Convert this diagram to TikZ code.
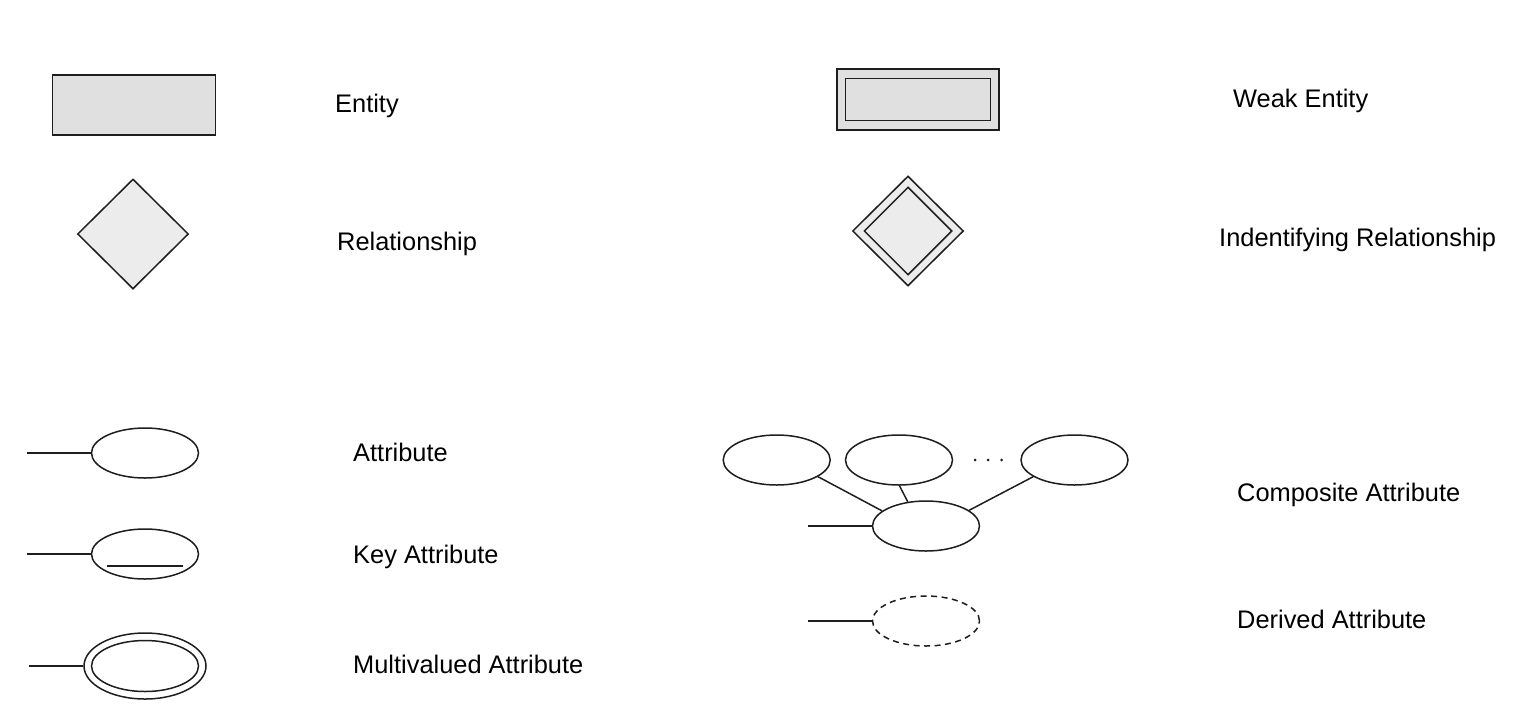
\documentclass[tikz,border=0pt]{standalone}
\usepackage{fontspec}
\setmainfont{Liberation Sans}
\usetikzlibrary{shapes.geometric}
\definecolor{ink}{HTML}{1E1E1E}
\definecolor{entfill}{HTML}{E0E0E0}
\definecolor{relfill}{HTML}{ECECEC}
\tikzset{
  er/.style={draw=ink, line width=1.5pt, inner sep=0pt},
  entbox/.style={er, rectangle, fill=entfill},
  relbox/.style={er, diamond, fill=relfill},
  attr/.style={er, ellipse, fill=white, minimum width=107pt, minimum height=50pt},
  conn/.style={draw=ink, line width=1.5pt},
  lbl/.style={anchor=base west, inner sep=0pt, font=\fontsize{25.4}{29}\selectfont, text=black}
}
\begin{document}
\begin{tikzpicture}[x=1pt,y=-1pt]
\useasboundingbox (0,0) rectangle (1517,716);
% Entity
\node[entbox, minimum width=163pt, minimum height=60pt] (ent) at (134,105) {};
\node[lbl] (entl) at (335,112.7) {Entity};
% Relationship
\node[relbox, minimum width=111pt, minimum height=110pt] (rel) at (133,234) {};
\node[lbl] (rell) at (337,250) {Relationship};
% Weak entity
\node[entbox, minimum width=162pt, minimum height=61pt] (went) at (918,99.5) {};
\node[entbox, minimum width=145pt, minimum height=42pt] (wenti) at (918,99.5) {};
\node[lbl] (wentl) at (1233,107.3) {Weak Entity};
% Identifying relationship
\node[relbox, minimum width=111pt, minimum height=110pt] (irel) at (908,231) {};
\node[relbox, minimum width=88pt, minimum height=88pt] (ireli) at (908,231) {};
\node[lbl] (irell) at (1219,246.7) {Indentifying Relationship};
% Attribute
\node[attr] (att) at (145,453) {};
\coordinate (attc) at (27,453);
\draw[conn] (attc) -- (att.west);
\node[lbl] (attl) at (353,461.7) {Attribute};
% Key attribute
\node[attr] (katt) at (145,554) {};
\coordinate (kattc) at (27,554);
\draw[conn] (kattc) -- (katt.west);
\draw[conn] ([shift={(-38pt,-12pt)}]katt.center) -- ([shift={(38pt,-12pt)}]katt.center);
\node[lbl] (kattl) at (353,563.3) {Key Attribute};
% Multivalued attribute
\node[attr, minimum width=122pt, minimum height=66pt] (matt) at (145,666) {};
\node[attr, minimum width=107pt, minimum height=51pt] (matti) at (145,666) {};
\coordinate (mattc) at (29,666);
\draw[conn] (mattc) -- (matt.west);
\node[lbl] (mattl) at (353,673.3) {Multivalued Attribute};
% Composite attribute
\node[attr] (c1) at (776.7,460) {};
\node[attr] (c2) at (899,460) {};
\node[attr] (c3) at (1074.5,460) {};
\node[attr] (c4) at (926,526) {};
\foreach \dx in {975,988,1001.5} \fill[ink] (\dx,460) circle (1.5pt);
\draw[conn] (c1.-22) -- (c4.161);
\draw[conn] (c2.-89) -- (c4.127);
\draw[conn] (c3.202) -- (c4.20);
\coordinate (c4c) at (807.7,526);
\draw[conn] (c4c) -- (c4.west);
\node[lbl] (compl) at (1237,501.7) {Composite Attribute};
% Derived attribute
\node[attr, dashed, dash pattern=on 6pt off 4.5pt] (datt) at (926,621) {};
\coordinate (dattc) at (807.7,621);
\draw[conn] (dattc) -- (datt.west);
\node[lbl] (dattl) at (1237,628.3) {Derived Attribute};
\end{tikzpicture}
\end{document}
